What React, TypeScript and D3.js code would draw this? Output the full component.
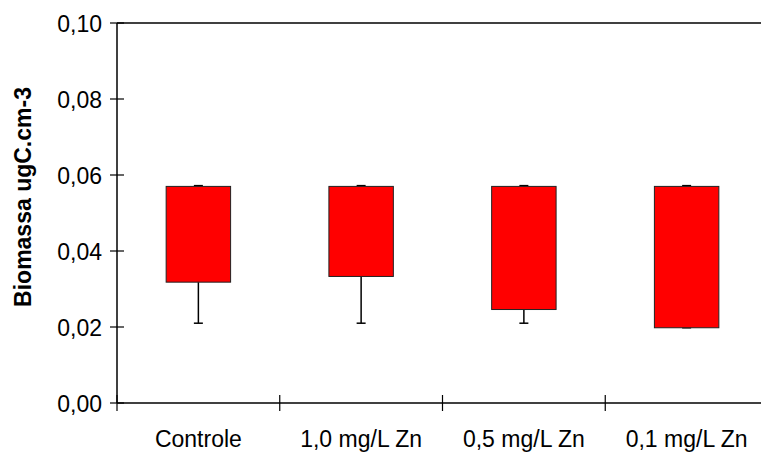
import React from "react";
import * as d3 from "d3";

// Biomass ranges per treatment
const categories = ["Controle", "1,0 mg/L Zn", "0,5 mg/L Zn", "0,1 mg/L Zn"];
const boxTop = [0.057, 0.057, 0.057, 0.057];
const boxBottom = [0.0318, 0.0333, 0.0246, 0.0198];
const whiskerHigh = [0.0572, 0.0572, 0.0572, 0.0572];
const whiskerLow = [0.021, 0.021, 0.021, 0.0198];
const yTicks = [0, 0.02, 0.04, 0.06, 0.08, 0.1];

const W = 761;
const H = 453;
const margin = { left: 117, top: 23, bottom: 403 };
const plotRight = margin.left + 4 * 162.75;

export default function App() {
  const x = d3
    .scaleBand<string>()
    .domain(categories)
    .range([margin.left, plotRight])
    .padding(0);
  const y = d3.scaleLinear().domain([0, 0.1]).range([margin.bottom, margin.top]);
  const barW = x.bandwidth() * 0.396;
  const fmt = (v: number) => v.toFixed(2).replace(".", ",");
  const font = "'Liberation Sans', Arial, sans-serif";
  const boundaries = [...categories.map((c) => x(c)!), plotRight];

  return (
    <svg
      width={W}
      height={H}
      style={{ position: "absolute", left: 0, top: 0, background: "#fff" }}
      fontFamily={font}
    >
      {/* frame: top edge and right edge */}
      <line x1={margin.left} x2={plotRight} y1={margin.top} y2={margin.top} stroke="#000" strokeWidth={1.5} />
      <line x1={plotRight} x2={plotRight} y1={margin.top} y2={margin.bottom} stroke="#000" strokeWidth={1.5} />

      {/* boxes with whiskers */}
      {categories.map((c, i) => {
        const cx = x(c)! + x.bandwidth() / 2;
        const capW = 9;
        return (
          <g key={c}>
            <line x1={cx} x2={cx} y1={y(boxBottom[i])} y2={y(whiskerLow[i])} stroke="#000" strokeWidth={1.5} />
            <line x1={cx - capW / 2} x2={cx + capW / 2} y1={y(whiskerLow[i])} y2={y(whiskerLow[i])} stroke="#000" strokeWidth={1.5} />
            <line x1={cx} x2={cx} y1={y(boxTop[i])} y2={y(whiskerHigh[i])} stroke="#000" strokeWidth={1.5} />
            <line x1={cx - capW / 2} x2={cx + capW / 2} y1={y(whiskerHigh[i])} y2={y(whiskerHigh[i])} stroke="#000" strokeWidth={1.5} />
            <rect
              x={cx - barW / 2}
              y={y(boxTop[i])}
              width={barW}
              height={y(boxBottom[i]) - y(boxTop[i])}
              fill="#ff0000"
              stroke="#222"
              strokeWidth={1}
            />
          </g>
        );
      })}

      {/* y axis */}
      <line x1={margin.left} x2={margin.left} y1={margin.top} y2={margin.bottom} stroke="#000" strokeWidth={1.5} />
      {yTicks.map((t) => (
        <g key={t}>
          <line x1={margin.left - 7} x2={margin.left + 7} y1={y(t)} y2={y(t)} stroke="#000" strokeWidth={1.2} />
          <text x={102} y={y(t) + 8.5} textAnchor="end" fontSize={23} fill="#000">
            {fmt(t)}
          </text>
        </g>
      ))}

      {/* x axis */}
      <line x1={margin.left} x2={plotRight} y1={margin.bottom} y2={margin.bottom} stroke="#000" strokeWidth={1.5} />
      {boundaries.map((b, i) => (
        <line key={i} x1={b} x2={b} y1={margin.bottom - 8} y2={margin.bottom + 8} stroke="#000" strokeWidth={1.2} />
      ))}
      {categories.map((c) => (
        <text key={c} x={x(c)! + x.bandwidth() / 2} y={446.5} textAnchor="middle" fontSize={23} fill="#000">
          {c}
        </text>
      ))}

      {/* y axis title */}
      <text
        transform="translate(31, 197) rotate(-90)"
        textAnchor="middle"
        fontSize={23}
        fontWeight="bold"
        fill="#000"
      >
        Biomassa ugC.cm-3
      </text>
    </svg>
  );
}
